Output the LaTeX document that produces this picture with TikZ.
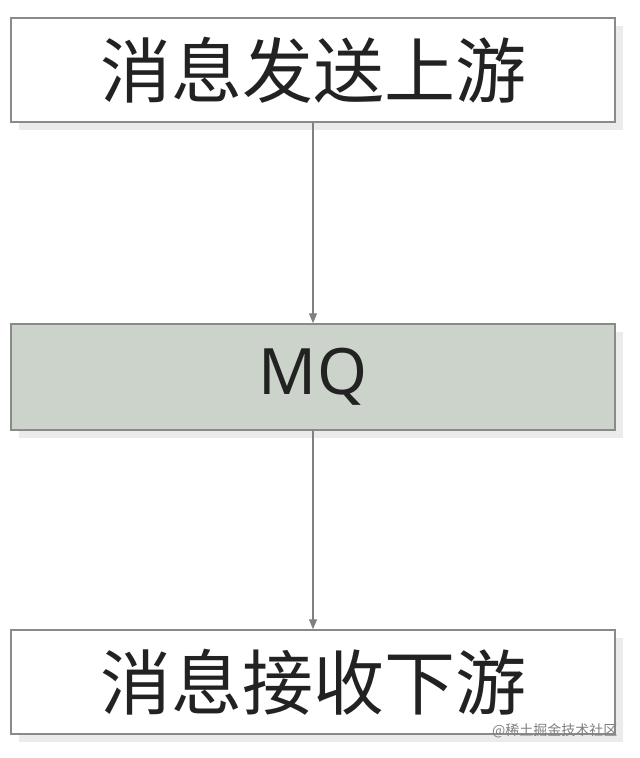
\documentclass[tikz,border=0pt]{standalone}
\usepackage{fontspec}
\newfontfamily\cjk{Noto Sans CJK SC}
\setmainfont{Noto Sans}
\usetikzlibrary{arrows.meta}
\definecolor{boxline}{HTML}{8A8A8A}
\definecolor{mqfill}{HTML}{CBD3CB}
\definecolor{txt}{HTML}{222222}
\begin{document}
\begin{tikzpicture}[x=1pt,y=-1pt,
  box/.style={draw=boxline,line width=1.5pt,minimum width=604pt,minimum height=104pt,inner sep=0pt,text=txt},
  shade/.style={fill=black!8},
  conn/.style={draw=gray,line width=1.3pt,-{Triangle[length=10pt,width=8pt]}}]
\useasboundingbox (0,0) rectangle (640,758);
\fill[white] (0,0) rectangle (640,758);
\fill[shade] (19,26) rectangle (623,130);
\fill[shade] (19,332) rectangle (623,438);
\fill[shade] (19,638) rectangle (623,742);
\node[box,fill=white,font=\cjk\fontsize{71}{80}\selectfont] (up) at (313,70) {\raisebox{-6pt}{消息发送上游}};
\node[box,fill=mqfill,minimum height=106pt,font=\fontsize{64}{72}\selectfont] (mq) at (313,377) {\raisebox{-4pt}{MQ}};
\node[box,fill=white,font=\cjk\fontsize{71}{80}\selectfont] (down) at (313,682) {\raisebox{-6pt}{消息接收下游}};
\draw[conn] (up) -- (mq);
\draw[conn] (mq) -- (down);
\node[text=gray,font=\cjk\fontsize{14}{15}\selectfont,anchor=east] (wm) at (621,731) {@稀土掘金技术社区};
\end{tikzpicture}
\end{document}
